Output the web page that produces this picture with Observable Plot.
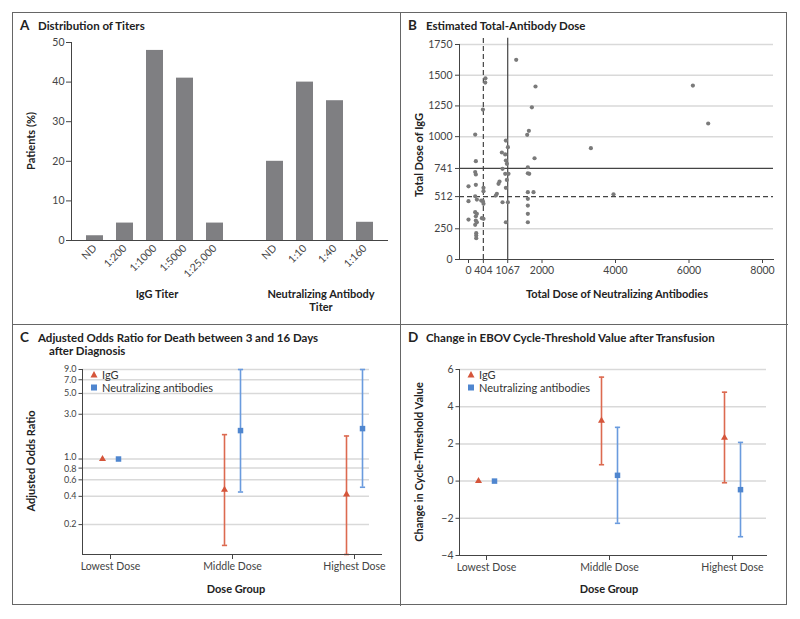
<!DOCTYPE html>
<html>
<head>
<meta charset="utf-8">
<script src="https://cdn.jsdelivr.net/npm/d3@7"></script>
<script src="https://cdn.jsdelivr.net/npm/@observablehq/plot@0.6"></script>
<style>
  body { margin: 0; background: #fff; font-family: Lato, "Open Sans", sans-serif; color: #222; }
  #wrap { position: relative; width: 800px; height: 619px; overflow: hidden; }
  .box { position: absolute; border: 1.5px solid #666; }
  .vline { position: absolute; background: #666; }
  .svgwrap { position: absolute; }
  .t { position: absolute; white-space: nowrap; line-height: 1; }
  .title { font-size: 11.5px; font-weight: 700; color: #222; }
  .letter { font-size: 13.5px; font-weight: 700; color: #222; }
  .axlab { font-size: 11px; font-weight: 700; color: #222; transform: translate(-50%, -50%); }
  .ylab { font-size: 11px; font-weight: 700; color: #222; transform: translate(-50%, -50%) rotate(-90deg); }
  .leg { font-size: 11px; color: #333; transform: translateY(-50%); display: flex; align-items: center; }
</style>
</head>
<body>
<div id="wrap">
  <div class="box" style="left:12px;top:12px;width:773px;height:591px;"></div>
  <div class="vline" style="left:399.5px;top:12px;width:1.5px;height:594px;"></div>
  <div class="vline" style="left:12px;top:323.5px;width:776px;height:1.5px;"></div>

  <div class="svgwrap" id="pA" style="left:12px;top:12px;"></div>
  <div class="svgwrap" id="pB" style="left:400px;top:12px;"></div>
  <div class="svgwrap" id="pC" style="left:12px;top:324px;"></div>
  <div class="svgwrap" id="pD" style="left:400px;top:324px;"></div>

  <div class="t letter" style="left:20px;top:19px;">A</div>
  <div class="t title" style="left:38px;top:20px;">Distribution of Titers</div>
  <div class="t letter" style="left:408px;top:19px;">B</div>
  <div class="t title" style="left:426px;top:20px;">Estimated Total-Antibody Dose</div>
  <div class="t letter" style="left:20px;top:331px;">C</div>
  <div class="t title" style="left:38px;top:332px;">Adjusted Odds Ratio for Death between 3 and 16 Days</div>
  <div class="t title" style="left:49px;top:345px;">after Diagnosis</div>
  <div class="t letter" style="left:408px;top:331px;">D</div>
  <div class="t title" style="left:426px;top:332px;">Change in EBOV Cycle-Threshold Value after Transfusion</div>

  <div class="t ylab" style="left:30px;top:141px;">Patients (%)</div>
  <div class="t axlab" style="left:157px;top:293px;">IgG Titer</div>
  <div class="t axlab" style="left:321px;top:293px;">Neutralizing Antibody</div>
  <div class="t axlab" style="left:321px;top:306px;">Titer</div>

  <div class="t ylab" style="left:418px;top:155px;">Total Dose of IgG</div>
  <div class="t axlab" style="left:617px;top:293px;">Total Dose of Neutralizing Antibodies</div>

  <div class="t ylab" style="left:30px;top:461px;">Adjusted Odds Ratio</div>
  <div class="t axlab" style="left:236px;top:588px;">Dose Group</div>

  <div class="t ylab" style="left:418px;top:462px;">Change in Cycle-Threshold Value</div>
  <div class="t axlab" style="left:609px;top:588px;">Dose Group</div>

  <div class="t leg" style="left:89px;top:374px;"><svg width="10" height="10"><path d="M5,1.5 L8.5,8 L1.5,8 Z" fill="#d5553a"/></svg><span style="margin-left:3px">IgG</span></div>
  <div class="t leg" style="left:89px;top:387px;"><svg width="10" height="10"><rect x="2" y="2" width="6" height="6" fill="#4f86cf"/></svg><span style="margin-left:3px">Neutralizing antibodies</span></div>
  <div class="t leg" style="left:466px;top:374px;"><svg width="10" height="10"><path d="M5,1.5 L8.5,8 L1.5,8 Z" fill="#d5553a"/></svg><span style="margin-left:3px">IgG</span></div>
  <div class="t leg" style="left:466px;top:387px;"><svg width="10" height="10"><rect x="2" y="2" width="6" height="6" fill="#4f86cf"/></svg><span style="margin-left:3px">Neutralizing antibodies</span></div>
</div>

<script>
// ---------- Panel A data ----------
const iggTiters = ["ND", "1:200", "1:1000", "1:5000", "1:25,000"];
const iggPercent = [1.2, 4.4, 48.0, 41.0, 4.4];
const nabTiters = ["ND", "1:10", "1:40", "1:160"];
const nabPercent = [20.0, 40.0, 35.3, 4.6];

// ---------- Panel B data ----------
const nabDose = [1298, 460, 455, 1823, 392, 1725, 182, 1643, 1597, 1017, 1072, 908, 999,
  1017, 1044, 1797, 200, 926, 1615, 1615, 1652, 182, 200, 999, 1088, 1044, 844, 817,
  0, 200, 1017, 408, 408, 1615, 1769, 772, 745, 182, 228, 346, 0, 392, 408, 926, 1072,
  1615, 1615, 182, 228, 200, 1615, 0, 200, 228, 182, 364, 408, 1017, 1615, 210, 210, 210,
  3330, 6106, 6522, 3946];
const iggDose = [1625, 1475, 1440, 1408, 1220, 1239, 1017, 1047, 1015, 968, 914, 871, 855,
  806, 779, 824, 800, 738, 751, 702, 697, 712, 692, 697, 697, 648, 635, 616,
  596, 608, 583, 583, 556, 548, 548, 535, 521, 515, 488, 480, 475, 475, 453, 466, 466,
  494, 439, 385, 372, 352, 372, 325, 317, 303, 282, 336, 331, 303, 303, 214, 195, 173,
  906, 1416, 1107, 531];
const nabMedians = [404, 1067];
const iggMedians = [512, 741];
const bXTicks = [0, 404, 1067, 2000, 4000, 6000, 8000];
const bYTicks = [0, 250, 512, 741, 1000, 1250, 1500, 1750];
const bGrid = [250, 1000, 1250, 1500, 1750];

// ---------- Panel C data ----------
const doseGroups = ["Lowest Dose", "Middle Dose", "Highest Dose"];
const orIgG = [1.0, 0.47, 0.42];
const orIgGLow = [null, 0.12, 0.096];
const orIgGHigh = [null, 1.82, 1.76];
const orNab = [1.0, 2.01, 2.11];
const orNabLow = [null, 0.445, 0.50];
const orNabHigh = [null, 9.0, 9.0];
const cTicks = [0.2, 0.4, 0.6, 0.8, 1.0, 3.0, 5.0, 7.0, 9.0];

// ---------- Panel D data ----------
const ctIgG = [0, 3.25, 2.33];
const ctIgGLow = [null, 0.88, -0.09];
const ctIgGHigh = [null, 5.59, 4.78];
const ctNab = [0, 0.31, -0.46];
const ctNabLow = [null, -2.27, -2.99];
const ctNabHigh = [null, 2.89, 2.08];
const dTicks = [-4, -2, 0, 2, 4, 6];
const dGrid = [-2, 0, 2, 4, 6];

const RED = "#d5553a", RED_L = "#dc6a50", BLUE = "#4f86cf", BLUE_L = "#6a9bde";
const FONT = "Lato, 'Open Sans', sans-serif";
const baseStyle = {background: "transparent", fontFamily: FONT, fontSize: "10.5px", color: "#444", overflow: "visible"};

// horizontal whisker cap and y-axis tick as custom symbols
const capSymbol = {draw(ctx) { ctx.moveTo(-2.6, 0); ctx.lineTo(2.6, 0); }};
const yTickSymbol = {draw(ctx) { ctx.moveTo(-4, 0); ctx.lineTo(0, 0); }};

// ---------- Panel A ----------
{
  const rows = [
    ...iggTiters.map((t, i) => ({key: "IgG " + t, label: t, pct: iggPercent[i]})),
    ...nabTiters.map((t, i) => ({key: "NAb " + t, label: t, pct: nabPercent[i]}))
  ];
  const labels = new Map(rows.map(d => [d.key, d.label]));
  const domain = [...iggTiters.map(t => "IgG " + t), "gap", ...nabTiters.map(t => "NAb " + t)];
  const chart = Plot.plot({
    width: 388, height: 312,
    marginLeft: 59, marginRight: 13, marginTop: 30, marginBottom: 84,
    style: baseStyle,
    x: {domain, padding: 0.44, label: null, tickSize: 0, tickPadding: 6, tickRotate: -45,
        tickFormat: k => labels.get(k) ?? ""},
    y: {domain: [0, 50], ticks: [0, 10, 20, 30, 40, 50], label: null, tickSize: 5, tickPadding: 2},
    marks: [
      Plot.barY(rows, {x: "key", y: "pct", fill: "#7f7f82"}),
      Plot.frame({anchor: "left"}),
      Plot.frame({anchor: "bottom"})
    ]
  });
  document.getElementById("pA").append(chart);
}

// ---------- Panel B ----------
{
  const pts = nabDose.map((x, i) => ({x, y: iggDose[i]}));
  const chart = Plot.plot({
    width: 388, height: 312,
    marginLeft: 59, marginRight: 15, marginTop: 32, marginBottom: 65,
    style: baseStyle,
    x: {domain: [0, 8000], insetLeft: 9, insetRight: 11, ticks: bXTicks, tickFormat: d => String(d),
        label: null, tickSize: 4, tickPadding: 3},
    y: {domain: [0, 1750], ticks: bYTicks, tickFormat: d => String(d), label: null, tickSize: 4, tickPadding: 3},
    marks: [
      Plot.ruleY(bGrid, {stroke: "#d9d9d9", strokeWidth: 1.5}),
      Plot.ruleY([iggMedians[1]], {stroke: "#444", strokeWidth: 1.2}),
      Plot.ruleY([iggMedians[0]], {stroke: "#444", strokeWidth: 1.2, strokeDasharray: "5,3"}),
      Plot.ruleX([nabMedians[0]], {y1: 0, y2: 1800, stroke: "#444", strokeWidth: 1.2, strokeDasharray: "5,3"}),
      Plot.ruleX([nabMedians[1]], {y1: 0, y2: 1800, stroke: "#444", strokeWidth: 1.2}),
      Plot.dot(pts, {x: "x", y: "y", r: 2.1, fill: "#7a7a7a"}),
      Plot.frame({anchor: "left"}),
      Plot.frame({anchor: "bottom"})
    ]
  });
  document.getElementById("pB").append(chart);
}

function errorPanel(opts) {
  const {groups, a, aLo, aHi, b, bLo, bHi, yScale, ticks, fmt, tickFont, nudge = {}, grid, gridInset, xPad, xAlign, margins} = opts;
  const rowsA = groups.map((g, i) => ({g, v: a[i], lo: aLo[i], hi: aHi[i]}));
  const rowsB = groups.map((g, i) => ({g, v: b[i], lo: bLo[i], hi: bHi[i]}));
  const ciA = rowsA.filter(d => d.lo != null);
  const ciB = rowsB.filter(d => d.lo != null);
  const capsA = ciA.flatMap(d => [{g: d.g, y: d.lo}, {g: d.g, y: d.hi}]);
  const capsB = ciB.flatMap(d => [{g: d.g, y: d.lo}, {g: d.g, y: d.hi}]);
  const tickRows = ticks.map(v => ({v, dy: nudge[v] ?? 0}));
  const gridRows = grid.map(v => ({v}));
  const dys = [...new Set(tickRows.map(d => d.dy))];
  const off = 8;
  return Plot.plot({
    width: 388, height: 282,
    ...margins,
    style: baseStyle,
    x: {type: "point", domain: groups, padding: xPad, align: xAlign, label: null, tickSize: 5, tickPadding: 3},
    y: {...yScale, axis: null},
    marks: [
      Plot.ruleY(gridRows, {y: "v", stroke: "#d9d9d9", strokeWidth: 1.5, insetRight: gridInset}),
      Plot.dot(tickRows, {y: "v", frameAnchor: "left", symbol: yTickSymbol, fill: "none", stroke: "#444", strokeWidth: 1}),
      ...dys.map(dy => Plot.text(tickRows.filter(d => d.dy === dy), {y: "v", text: d => fmt(d.v), frameAnchor: "left",
                           textAnchor: "end", dx: -6, dy, fill: "#444", fontSize: tickFont})),
      Plot.ruleX(ciA, {x: "g", y1: "lo", y2: "hi", dx: -off, stroke: RED_L, strokeWidth: 1.6}),
      Plot.ruleX(ciB, {x: "g", y1: "lo", y2: "hi", dx: off, stroke: BLUE_L, strokeWidth: 1.6}),
      Plot.dot(capsA, {x: "g", y: "y", dx: -off, symbol: capSymbol, fill: "none", stroke: RED_L, strokeWidth: 1.6}),
      Plot.dot(capsB, {x: "g", y: "y", dx: off, symbol: capSymbol, fill: "none", stroke: BLUE_L, strokeWidth: 1.6}),
      Plot.dot(rowsA, {x: "g", y: "v", dx: -off, symbol: "triangle", r: 2.6, fill: RED}),
      Plot.dot(rowsB, {x: "g", y: "v", dx: off, symbol: "square", r: 3.1, fill: BLUE}),
      Plot.frame({anchor: "left"}),
      Plot.frame({anchor: "bottom"})
    ]
  });
}

// ---------- Panel C ----------
document.getElementById("pC").append(errorPanel({
  groups: doseGroups, a: orIgG, aLo: orIgGLow, aHi: orIgGHigh, b: orNab, bLo: orNabLow, bHi: orNabHigh,
  yScale: {type: "log", domain: [0.096, 9]}, ticks: cTicks, fmt: d => d.toFixed(1), tickFont: 9,
  nudge: {1: -1.5, 0.8: 1},
  grid: cTicks, gridInset: 12, xPad: 0.223, xAlign: 0.5,
  margins: {marginLeft: 70, marginRight: 19, marginTop: 45, marginBottom: 52}
}));

// ---------- Panel D ----------
document.getElementById("pD").append(errorPanel({
  groups: doseGroups, a: ctIgG, aLo: ctIgGLow, aHi: ctIgGHigh, b: ctNab, bLo: ctNabLow, bHi: ctNabHigh,
  yScale: {domain: [-4, 6]}, ticks: dTicks, fmt: d => d < 0 ? "\u2212" + Math.abs(d) : String(d), tickFont: 10.5,
  grid: dGrid, gridInset: 0, xPad: 0.247, xAlign: 0.44,
  margins: {marginLeft: 59, marginRight: 22, marginTop: 45, marginBottom: 51}
}));
</script>
</body>
</html>
